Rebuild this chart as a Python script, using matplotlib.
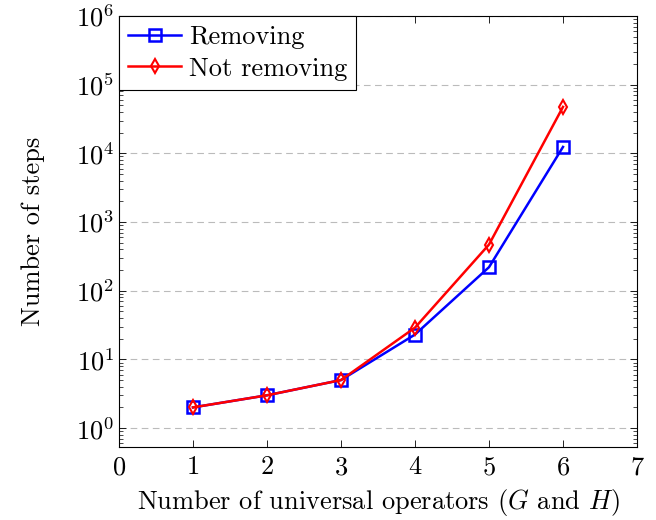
import matplotlib
matplotlib.use("Agg")
import matplotlib.pyplot as plt
from matplotlib.ticker import LogLocator, NullFormatter

# data
operators = [1, 2, 3, 4, 5, 6]
steps_removing = [2, 3, 5, 23, 220, 12400]
steps_not_removing = [2, 3, 5, 29, 470, 47500]

plt.rcParams['font.family'] = 'cmr10'
plt.rcParams['mathtext.fontset'] = 'cm'
plt.rcParams['axes.formatter.use_mathtext'] = True
plt.rcParams['font.size'] = 19

fig = plt.figure(figsize=(6.56, 5.2), dpi=100)
ax = fig.add_axes([119 / 656, 1 - 447 / 520, (637 - 119) / 656, (447 - 16) / 520])

ax.plot(operators, steps_removing, color='blue', lw=1.8, marker='s', ms=8,
        mfc='none', mew=1.8, label='Removing')
ax.plot(operators, steps_not_removing, color='red', lw=1.8, marker='d', ms=7,
        mfc='none', mew=1.5, label='Not removing')

ax.set_yscale('log')
ax.set_xlim(0, 7)
ax.set_ylim(0.53, 1e6)
ax.set_xticks(range(8))
ax.yaxis.set_major_locator(LogLocator(base=10, numticks=10))
ax.yaxis.set_minor_locator(LogLocator(base=10, subs=range(2, 10), numticks=20))
ax.yaxis.set_minor_formatter(NullFormatter())

ax.tick_params(which='both', direction='in', top=True, right=True)
ax.tick_params(which='major', length=5, width=0.6)
ax.tick_params(which='minor', length=3, width=0.5)
ax.tick_params(axis='x', pad=6)
ax.grid(True, axis='y', which='major', linestyle=(0, (6, 4)), color='#bbbbbb', lw=0.8)
ax.set_axisbelow(True)
for s in ax.spines.values():
    s.set_linewidth(0.8)

ax.set_xlabel('Number of universal operators ($G$ and $H$)', labelpad=6)
ax.set_ylabel('Number of steps', labelpad=22)

leg = ax.legend(loc='upper left', fancybox=False, edgecolor='black',
                framealpha=1, borderaxespad=0.0, handlelength=2.0,
                borderpad=0.35, labelspacing=0.3, handletextpad=0.3)
leg.get_frame().set_linewidth(0.8)

fig.savefig('out.png', dpi=100)
